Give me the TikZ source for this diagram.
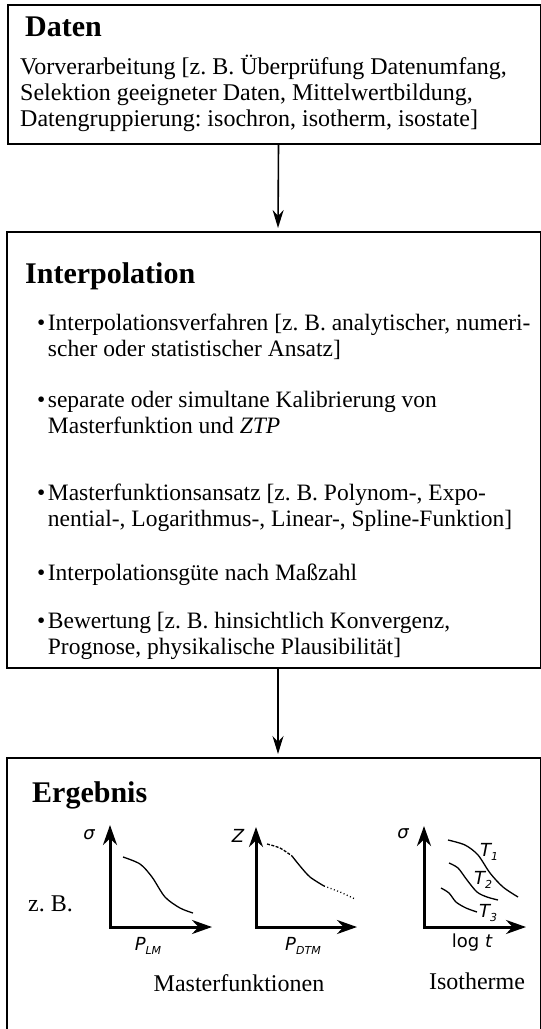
\documentclass[tikz,border=0pt]{standalone}
\usepackage{fontspec}
\setmainfont{Liberation Serif}
\newfontfamily\plotfont{DejaVu Sans}
\usetikzlibrary{arrows.meta}
\frenchspacing
\newcommand{\lowsub}[1]{\raisebox{-3.5pt}{\fontsize{11}{11}\selectfont\itshape #1}}

\begin{document}
\begin{tikzpicture}[x=1pt,y=-1pt,
  box/.style={draw, line width=2pt, anchor=north west, inner sep=0pt},
  flow/.style={line width=1.6pt, shorten >=3pt, -{Stealth[length=18pt,width=11pt]}},
  axis/.style={line width=3pt, line join=miter, {Stealth[length=20pt,width=14pt]}-{Stealth[length=20pt,width=14pt]}},
  title/.style={anchor=base west, inner sep=0pt, font=\fontsize{30}{36}\selectfont\bfseries},
  body/.style={anchor=base west, inner sep=0pt, font=\fontsize{24}{26}\selectfont},
  item/.style={anchor=base west, inner sep=0pt, font=\fontsize{23.5}{26}\selectfont},
  lbl/.style={inner sep=0pt, font=\plotfont\fontsize{18}{20}\selectfont},
  curve/.style={line width=1.3pt}]
\useasboundingbox (0,0) rectangle (541,1029);
%Boxes
\node (daten) [box, minimum width=533pt, minimum height=139pt] at (7,4) {};
\node (interp) [box, minimum width=534pt, minimum height=436pt] at (6,231) {};
\node (ergebnis) [box, minimum width=534pt, minimum height=290pt] at (6,757) {};
\draw [flow] ([xshift=4pt]daten.south) -- ([xshift=4pt]interp.north);
\draw [flow] ([xshift=4pt]interp.south) -- ([xshift=4pt]ergebnis.north);
%Text
\node (datentitle) [title] at (25,36) {Daten};
\node (d1) [body] at (20,74) {Vorverarbeitung [z. B. Überprüfung Datenumfang,};
\node (d2) [body] at (20,100) {Selektion geeigneter Daten, Mittelwertbildung,};
\node (d3) [body] at (20,126) {Datengruppierung: isochron, isotherm, isostate]};
\node (interptitle) [title] at (25,283) {Interpolation};
\node (i1) [item] at (37,330) {\textbullet\kern2.5pt Interpolationsverfahren [z. B. analytischer, numeri-};
\node (i1b) [item] at (37,356) {\phantom{\textbullet\kern2.5pt}scher oder statistischer Ansatz]};
\node (i2) [item] at (37,407) {\textbullet\kern2.5pt separate oder simultane Kalibrierung von};
\node (i2b) [item] at (37,433) {\phantom{\textbullet\kern2.5pt}Masterfunktion und \textit{ZTP}};
\node (i3) [item] at (37,500) {\textbullet\kern2.5pt Masterfunktionsansatz [z. B. Polynom-, Expo-};
\node (i3b) [item] at (37,526) {\phantom{\textbullet\kern2.5pt}nential-, Logarithmus-, Linear-, Spline-Funktion]};
\node (i4) [item] at (37,580) {\textbullet\kern2.5pt Interpolationsgüte nach Maßzahl};
\node (i5) [item] at (37,628) {\textbullet\kern2.5pt Bewertung [z. B. hinsichtlich Konvergenz,};
\node (i5b) [item] at (37,654) {\phantom{\textbullet\kern2.5pt}Prognose, physikalische Plausibilität]};
\node (ergtitle) [title] at (32,802) {Ergebnis};
\node (zb) [body] at (28,911) {z. B.};
\node (master) [body, anchor=base] at (239,991) {Masterfunktionen};
\node (isoth) [body, anchor=base] at (477,989) {Isotherme};
%Plot 1
\coordinate (o1) at (110,927);
\coordinate (y1) at (110,825);
\coordinate (x1) at (212,927);
\draw [axis] (y1) -- (o1) -- (x1);
\node (sig1) [lbl] at (89,835) {\itshape σ};
\node (plm) [lbl] at (148,946) {\itshape P\lowsub{LM}};
\draw [curve] plot [smooth] coordinates {(123,857) (140,864) (152,877) (165,897) (180,908) (193,913)};
%Plot 2
\coordinate (o2) at (256,927);
\coordinate (y2) at (256,827);
\coordinate (x2) at (357,927);
\draw [axis] (y2) -- (o2) -- (x2);
\node (zlab) [lbl] at (238,836) {\itshape Z};
\node (pdtm) [lbl] at (303,946) {\itshape P\lowsub{DTM}};
\draw [curve, dash pattern=on 3pt off 1.5pt] plot [smooth] coordinates {(267,844) (280,848) (292,856)};
\draw [curve] plot [smooth] coordinates {(292,856) (300,866) (310,877) (324,886)};
\draw [curve, dash pattern=on 1pt off 2.5pt] plot [smooth] coordinates {(324,886) (340,892) (355,899)};
%Plot 3
\coordinate (o3) at (424,927);
\coordinate (y3) at (424,826);
\coordinate (x3) at (526,927);
\draw [axis] (y3) -- (o3) -- (x3);
\node (sig3) [lbl] at (403,834) {\itshape σ};
\node (logt) [lbl] at (472,943) {log \itshape t};
\draw [curve] plot [smooth] coordinates {(448,840) (465,845) (478,855) (490,873) (503,887) (518,897)};
\draw [curve] plot [smooth] coordinates {(449,863) (458,868) (467,880) (477,892) (487,897) (498,900)};
\draw [curve] plot [smooth] coordinates {(441,888) (449,893) (456,902) (466,908) (477,912)};
\node (t1) [lbl] at (489,852) {\itshape T\lowsub{1}};
\node (t2) [lbl] at (483,880) {\itshape T\lowsub{2}};
\node (t3) [lbl] at (488,913) {\itshape T\lowsub{3}};
\end{tikzpicture}
\end{document}
